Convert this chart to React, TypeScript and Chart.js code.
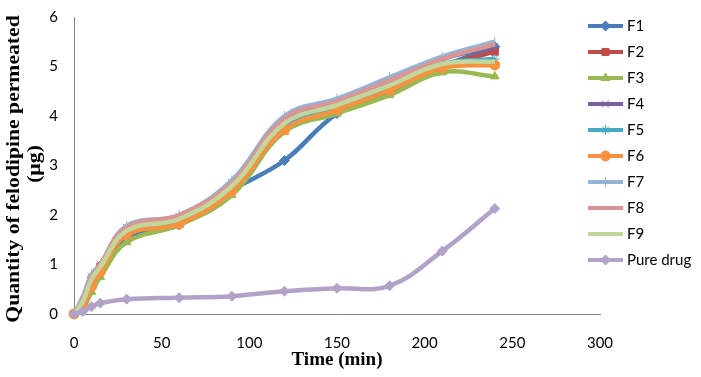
import React, { useEffect, useRef } from "react";
import { Chart, registerables } from "chart.js";
import { drawPoint } from "chart.js/helpers";

Chart.register(...registerables);

const TIMES = [0, 5, 10, 15, 30, 60, 90, 120, 150, 180, 210, 240];
const F1 = [0, 0.15, 0.6, 0.9, 1.55, 1.8, 2.5, 3.1, 4.05, 4.5, 5.0, 5.4];
const F2 = [0, 0.2, 0.7, 0.95, 1.6, 1.85, 2.5, 3.75, 4.15, 4.55, 5.0, 5.3];
const F3 = [0, 0.1, 0.45, 0.75, 1.45, 1.8, 2.4, 3.68, 4.05, 4.42, 4.88, 4.8];
const F4 = [0, 0.2, 0.75, 1.0, 1.75, 1.95, 2.65, 3.9, 4.3, 4.7, 5.15, 5.4];
const F5 = [0, 0.2, 0.65, 0.9, 1.65, 1.9, 2.55, 3.8, 4.2, 4.6, 5.05, 5.15];
const F6 = [0, 0.15, 0.55, 0.85, 1.6, 1.82, 2.48, 3.72, 4.12, 4.52, 4.97, 5.03];
const F7 = [0, 0.35, 0.8, 1.0, 1.78, 2.0, 2.7, 4.0, 4.35, 4.78, 5.2, 5.5];
const F8 = [0, 0.3, 0.75, 1.0, 1.75, 2.0, 2.65, 3.95, 4.3, 4.72, 5.15, 5.45];
const F9 = [0, 0.25, 0.7, 0.95, 1.68, 1.92, 2.58, 3.85, 4.22, 4.62, 5.05, 5.1];
const PURE = [0, 0.05, 0.15, 0.22, 0.3, 0.33, 0.36, 0.46, 0.52, 0.57, 1.27, 2.13];

const SERIES_NAMES = ["F1", "F2", "F3", "F4", "F5", "F6", "F7", "F8", "F9", "Pure drug"];
const SERIES_VALUES = [F1, F2, F3, F4, F5, F6, F7, F8, F9, PURE];
const COLORS = ["#4A7EBB", "#BE4B48", "#98B954", "#7D60A0", "#46AAC5", "#F69240", "#95B3D7", "#D99694", "#C3D69B", "#B3A2C7"];
const MARKERS: any[] = ["rectRot", "rect", "triangle", "crossRot", "star", "circle", "line", false, false, "rectRot"];
const MARKER_ROT = [0, 0, 0, 0, 0, 0, 90, 0, 0, 0];

const X_TICKS = [0, 50, 100, 150, 200, 250, 300];
const Y_TICKS = [0, 1, 2, 3, 4, 5, 6];
const X_TITLE = "Time (min)";
const Y_TITLE = ["Quantity of felodipine permeated", "(µg)"];

const overlay = {
  id: "overlay",
  afterDraw(chart: any) {
    const ctx = chart.ctx;
    ctx.save();
    ctx.fillStyle = "#000";
    ctx.font = 'bold 19px "Liberation Serif"';
    ctx.textAlign = "center";
    ctx.textBaseline = "middle";
    ctx.fillText(X_TITLE, 337, 360);
    ctx.save();
    ctx.translate(14, 169);
    ctx.rotate(-Math.PI / 2);
    ctx.scale(1.14, 1);
    ctx.fillText(Y_TITLE[0], 0, 0);
    ctx.restore();
    ctx.save();
    ctx.translate(35, 164);
    ctx.rotate(-Math.PI / 2);
    ctx.scale(1.14, 1);
    ctx.fillText(Y_TITLE[1], 0, 0);
    ctx.restore();

    // legend
    SERIES_NAMES.forEach((name, i) => {
      const y = 26 + 26 * i;
      const c = COLORS[i];
      ctx.strokeStyle = c;
      ctx.lineWidth = 4;
      ctx.lineCap = "butt";
      ctx.beginPath();
      ctx.moveTo(588, y);
      ctx.lineTo(623, y);
      ctx.stroke();
      if (MARKERS[i]) {
        ctx.fillStyle = c;
        ctx.strokeStyle = c;
        ctx.lineWidth = 1;
        drawPoint(ctx, { pointStyle: MARKERS[i], radius: 5, rotation: MARKER_ROT[i], borderWidth: 1 } as any, 605.5, y);
      }
      ctx.fillStyle = "#000";
      ctx.font = '15px Lato';
      ctx.textAlign = "left";
      ctx.textBaseline = "middle";
      ctx.fillText(name, 627, y);
    });
    ctx.restore();
  },
};

export default function App() {
  const ref = useRef<HTMLCanvasElement>(null);
  useEffect(() => {
    if (!ref.current) return;
    const n = SERIES_NAMES.length;
    const chart = new Chart(ref.current, {
      type: "line",
      data: {
        datasets: SERIES_NAMES.map((name, i) => ({
          label: name,
          data: TIMES.map((t, j) => ({ x: t, y: SERIES_VALUES[i][j] })),
          borderColor: COLORS[i],
          backgroundColor: COLORS[i],
          borderWidth: 4.5,
          tension: 0.4,
          pointStyle: MARKERS[i],
          pointRadius: MARKERS[i] ? 5 : 0,
          pointRotation: MARKER_ROT[i],
          pointBorderWidth: 1,
          pointBorderColor: COLORS[i],
          pointBackgroundColor: COLORS[i],
          clip: false as any,
          order: n - i,
        })),
      },
      options: {
        animation: false,
        responsive: false,
        events: [],
        layout: { padding: { left: 0, top: 12, right: 101, bottom: 0 } },
        plugins: { legend: { display: false }, tooltip: { enabled: false } },
        scales: {
          x: {
            type: "linear",
            min: 0,
            max: 300,
            afterFit: (s: any) => { s.height = 63; },
            afterBuildTicks: (s: any) => { s.ticks = X_TICKS.map((v) => ({ value: v })); },
            grid: { display: false },
            border: { display: true, color: "#868686", width: 1 },
            ticks: { color: "#000", font: { family: "Lato", size: 15 }, padding: 12, maxRotation: 0 },
          },
          y: {
            type: "linear",
            min: 0,
            max: 6,
            afterFit: (s: any) => { s.width = 74; },
            afterBuildTicks: (s: any) => { s.ticks = Y_TICKS.map((v) => ({ value: v })); },
            grid: { display: false },
            border: { display: true, color: "#868686", width: 1 },
            ticks: { color: "#000", font: { family: "Lato", size: 15 }, padding: 8 },
          },
        },
      },
      plugins: [overlay],
    });
    return () => chart.destroy();
  }, []);
  return (
    <div style={{ position: "fixed", left: 0, top: 0, width: 701, height: 377, background: "#fff" }}>
      <canvas ref={ref} width={701} height={377} />
    </div>
  );
}
